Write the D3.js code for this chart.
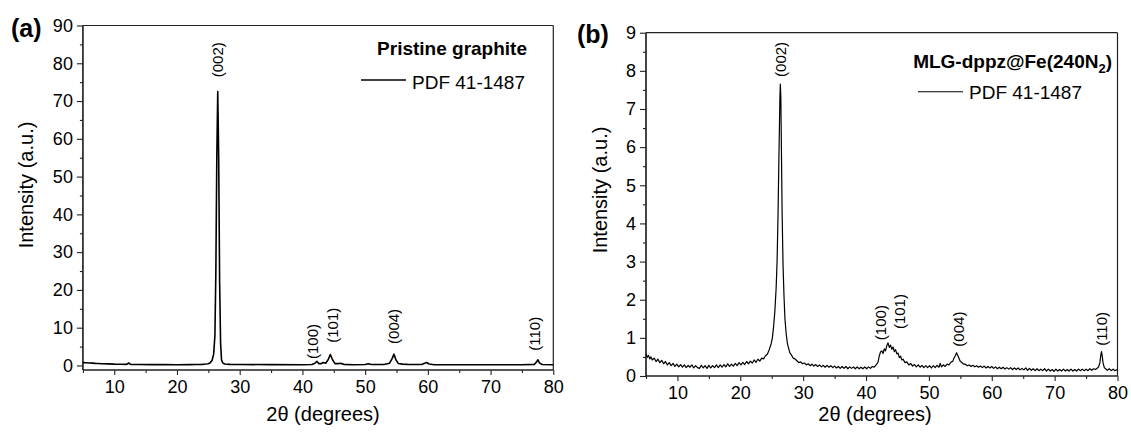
<!DOCTYPE html>
<html><head><meta charset="utf-8">
<script src="https://cdn.jsdelivr.net/npm/d3@7"></script>
<style>
body{margin:0;background:#fff;}
text{font-family:"Liberation Sans",Arial,sans-serif;fill:#000;}
</style></head>
<body><svg id="c" width="1131" height="432"></svg>
<script>
// ---- Data ----
const xTicks = [10,20,30,40,50,60,70,80];
const yTicksA = [0,10,20,30,40,50,60,70,80,90];
const yTicksB = [0,1,2,3,4,5,6,7,8,9];

// Panel (a): Pristine graphite, [2theta, intensity]
const patternA = [
[5,0.75],[5.5,0.72],[6,0.66],[6.5,0.62],[7,0.55],[7.5,0.52],[8,0.45],[9,0.42],[10,0.35],[11,0.32],[12,0.3],[12.3,0.65],[12.6,0.3],
[14,0.27],[16,0.22],[18,0.22],[20,0.2],[22,0.22],[23,0.25],[24,0.3],[24.6,0.38],[25.0,0.45],[25.3,0.7],[25.6,1.4],[25.85,3],
[26.05,8],[26.2,25],[26.35,55],[26.5,72.5],[26.65,55],[26.8,22],[26.95,6],[27.1,1.5],[27.3,0.7],[27.6,0.4],[28.5,0.3],
[30,0.25],[35,0.22],[40,0.2],[41.5,0.25],[42.0,0.6],[42.3,1.1],[42.6,0.5],[43.0,0.5],[43.3,0.8],[43.7,0.6],[44.1,1.5],
[44.45,2.9],[44.8,1.5],[45.2,0.5],[45.8,0.5],[46.1,0.55],[46.6,0.3],[48,0.2],[50,0.25],[50.5,0.45],[51,0.25],[53,0.25],
[53.9,0.6],[54.3,1.8],[54.6,3.0],[54.9,1.5],[55.3,0.5],[56,0.35],[57,0.25],[59,0.25],[59.5,0.6],[59.8,0.8],[60.2,0.4],
[61,0.2],[65,0.2],[70,0.2],[75,0.2],[77,0.3],[77.35,1.0],[77.55,1.5],[77.8,0.7],[78.2,0.25],[80,0.2]
];

// Panel (b): MLG-dppz@Fe(240N2), [2theta, intensity]
const patternB = [
[5.0,0.58],[5.2,0.49],[5.4,0.54],[5.6,0.45],[5.8,0.50],[6.0,0.42],[6.3,0.47],[6.6,0.38],[6.9,0.44],[7.2,0.35],[7.5,0.41],
[7.8,0.32],[8.1,0.38],[8.4,0.29],[8.7,0.35],[9.0,0.27],[9.3,0.33],[9.6,0.25],[9.9,0.31],[10.2,0.24],[10.5,0.30],[10.8,0.23],
[11.1,0.29],[11.4,0.22],[11.7,0.28],[12.0,0.23],[12.3,0.29],[12.6,0.21],[12.9,0.27],[13.2,0.22],[13.5,0.20],[13.8,0.28],
[14.1,0.21],[14.4,0.27],[14.7,0.20],[15.0,0.28],[15.3,0.21],[15.6,0.27],[15.9,0.22],[16.2,0.29],[16.5,0.22],[16.8,0.29],
[17.1,0.23],[17.4,0.30],[17.7,0.24],[18.0,0.32],[18.3,0.25],[18.6,0.31],[18.9,0.26],[19.2,0.33],[19.5,0.27],[19.8,0.35],
[20.1,0.29],[20.4,0.36],[20.7,0.30],[21.0,0.38],[21.3,0.32],[21.6,0.39],[21.9,0.34],[22.2,0.42],[22.5,0.36],[22.8,0.44],
[23.1,0.39],[23.4,0.47],[23.7,0.45],[24.0,0.53],[24.3,0.57],[24.6,0.69],[24.9,0.84],[25.1,1.0],[25.3,1.3],[25.5,1.7],
[25.7,2.3],[25.85,3.0],[26.0,4.2],[26.15,5.8],[26.3,7.3],[26.37,7.65],[26.45,7.3],[26.55,5.8],[26.65,4.3],[26.8,2.9],
[26.95,2.1],[27.1,1.5],[27.3,1.1],[27.5,0.85],[27.7,0.72],[27.9,0.60],[28.1,0.56],[28.4,0.47],[28.7,0.45],
[29.0,0.40],[29.3,0.35],[29.6,0.37],[29.9,0.32],[30.2,0.34],[30.5,0.29],[30.8,0.32],[31.1,0.27],[31.4,0.31],[31.7,0.26],
[32.0,0.30],[32.3,0.25],[32.6,0.29],[32.9,0.24],[33.2,0.28],[33.5,0.23],[33.8,0.28],[34.1,0.23],[34.4,0.27],[34.7,0.22],
[35.0,0.26],[35.3,0.21],[35.6,0.25],[35.9,0.20],[36.2,0.25],[36.5,0.20],[36.8,0.25],[37.1,0.19],[37.4,0.24],[37.7,0.20],
[38.0,0.24],[38.3,0.19],[38.6,0.24],[38.9,0.19],[39.2,0.23],[39.5,0.19],[39.8,0.24],[40.1,0.19],[40.4,0.24],[40.7,0.20],
[41.0,0.25],[41.3,0.23],[41.6,0.29],[41.9,0.36],[42.1,0.52],[42.3,0.63],[42.5,0.66],[42.7,0.59],[42.9,0.71],[43.1,0.66],
[43.3,0.79],[43.5,0.87],[43.7,0.75],[43.9,0.81],[44.1,0.70],[44.3,0.76],[44.5,0.64],[44.7,0.69],[44.9,0.58],[45.1,0.60],
[45.3,0.48],[45.5,0.52],[45.7,0.42],[45.9,0.44],[46.2,0.35],[46.5,0.37],[46.8,0.29],[47.1,0.33],[47.4,0.26],[47.7,0.30],
[48.0,0.24],[48.3,0.29],[48.6,0.23],[48.9,0.28],[49.2,0.22],[49.5,0.27],[49.8,0.22],[50.1,0.27],[50.4,0.21],[50.7,0.27],
[51.0,0.22],[51.3,0.28],[51.6,0.23],[51.8,0.33],[52.0,0.24],[52.3,0.29],[52.6,0.25],[52.9,0.31],[53.2,0.29],[53.5,0.36],
[53.8,0.39],[54.0,0.47],[54.2,0.53],[54.4,0.61],[54.6,0.54],[54.8,0.46],[55.0,0.38],[55.2,0.36],[55.5,0.31],[55.8,0.31],
[56.1,0.27],[56.4,0.29],[56.7,0.25],[57.0,0.28],[57.3,0.24],[57.6,0.27],[57.9,0.23],[58.2,0.26],[58.5,0.22],[58.8,0.26],
[59.1,0.21],[59.4,0.25],[59.7,0.21],[60.0,0.25],[60.3,0.20],[60.6,0.24],[60.9,0.19],[61.2,0.23],[61.5,0.19],[61.8,0.23],
[62.1,0.18],[62.4,0.22],[62.7,0.18],[63.0,0.22],[63.3,0.17],[63.6,0.21],[63.9,0.17],[64.2,0.21],[64.5,0.16],[64.8,0.20],
[65.1,0.16],[65.4,0.21],[65.7,0.15],[66.0,0.20],[66.3,0.15],[66.6,0.19],[66.9,0.14],[67.2,0.19],[67.5,0.14],[67.8,0.18],
[68.1,0.14],[68.4,0.19],[68.7,0.13],[69.0,0.18],[69.3,0.13],[69.6,0.17],[69.9,0.12],[70.2,0.18],[70.5,0.13],[70.8,0.17],
[71.1,0.13],[71.4,0.18],[71.7,0.13],[72.0,0.17],[72.3,0.13],[72.6,0.18],[72.9,0.13],[73.2,0.17],[73.5,0.13],[73.8,0.18],
[74.1,0.14],[74.4,0.18],[74.7,0.14],[75.0,0.18],[75.3,0.14],[75.6,0.19],[75.9,0.15],[76.2,0.19],[76.5,0.17],[76.8,0.21],
[77.0,0.24],[77.2,0.35],[77.35,0.55],[77.45,0.64],[77.55,0.55],[77.7,0.35],[77.9,0.22],[78.1,0.19],[78.4,0.15],[78.7,0.19],
[79.0,0.14],[79.3,0.18],[79.6,0.14],[80.0,0.17]
];

// Peak labels: [label, 2theta, intensity at label's lower end]
const peaksA = [["(002)",26.5,76.3],["(100)",41.7,1.7],["(101)",44.8,6.0],["(004)",54.6,5.7],["(110)",77.0,3.9]];
const peaksB = [["(002)",26.37,7.84],["(100)",42.3,0.94],["(101)",45.4,1.23],["(004)",54.8,0.77],["(110)",77.5,0.79]];

// ---- Drawing ----
const svg = d3.select("#c");
const axisColor = "#222";

function panel(o){
  const g = svg.append("g");
  const x = d3.scaleLinear().domain([5,80]).range([o.left,o.right]);
  const y = d3.scaleLinear().domain(o.yDomain).range([o.bottom,o.top]);

  g.append("line").attr("x1",o.left).attr("x2",o.right).attr("y1",o.top).attr("y2",o.top).attr("stroke",axisColor).attr("stroke-width",1.2);
  g.append("line").attr("x1",o.right).attr("x2",o.right).attr("y1",o.top).attr("y2",o.bottom).attr("stroke",axisColor).attr("stroke-width",1.2);

  const xMinor = d3.range(5,81,5).filter(v=>!xTicks.includes(v));
  const gx = g.append("g").attr("transform",`translate(0,${o.bottom})`);
  gx.call(d3.axisBottom(x).tickValues(xTicks).tickSize(5).tickPadding(5).tickFormat(d3.format("d")));
  gx.append("g").call(d3.axisBottom(x).tickValues(xMinor).tickSize(3).tickFormat(""));
  const gy = g.append("g").attr("transform",`translate(${o.left},0)`);
  gy.call(d3.axisLeft(y).tickValues(o.yTicks).tickSize(6).tickPadding(4).tickFormat(d3.format("d")));
  gy.append("g").call(d3.axisLeft(y).tickValues(o.yMinor).tickSize(3).tickFormat(""));
  g.selectAll(".domain").attr("stroke",axisColor).attr("stroke-width",1.2);
  g.selectAll(".tick line").attr("stroke",axisColor).attr("stroke-width",1.1);
  g.selectAll(".tick text").attr("font-size",18).attr("font-family","Liberation Sans, Arial, sans-serif").attr("fill","#000");
  gy.selectAll(".domain").attr("d",`M0,${o.bottom}V${o.top}`);
  gx.selectAll(".domain").attr("d",`M${o.left},0H${o.right}`);

  g.append("path").datum(o.data)
    .attr("d",d3.line().x(d=>x(d[0])).y(d=>y(d[1])))
    .attr("fill","none").attr("stroke","#000").attr("stroke-width",o.lw).attr("stroke-linejoin","round");

  o.peaks.forEach(p=>{
    g.append("text").attr("transform",`translate(${x(p[1])},${y(p[2])}) rotate(-90)`)
      .attr("dy","0.36em").attr("font-size",15).text(p[0]);
  });

  g.append("text").attr("transform",`translate(${o.ytX},${o.ytY}) rotate(-90)`)
    .attr("text-anchor","middle").attr("font-size",20).text("Intensity (a.u.)");
  g.append("text").attr("x",o.xtX).attr("y",421).attr("text-anchor","middle").attr("font-size",20).text("2θ (degrees)");

  g.append("text").attr("x",o.tagX).attr("y",o.tagY).attr("font-size",25).attr("font-weight","bold").text(o.tag);
  return {g,x,y};
}

const A = panel({left:82.9,right:553.3,top:25.5,bottom:370,yDomain:[-1.2,90],yTicks:yTicksA,
  yMinor:d3.range(5,90,10),data:patternA,peaks:peaksA,lw:1.6,ytX:33,ytY:185,xtX:323,tag:"(a)",tagX:11,tagY:37});
const B = panel({left:646,right:1117.5,top:32.7,bottom:376,yDomain:[0,9],yTicks:yTicksB,
  yMinor:d3.range(0.5,9,1),data:patternB,peaks:peaksB,lw:1.2,ytX:607,ytY:190,xtX:875,tag:"(b)",tagX:577,tagY:43});

A.g.append("text").attr("x",527).attr("y",55).attr("text-anchor","end").attr("font-size",19).attr("font-weight","bold").text("Pristine graphite");
A.g.append("line").attr("x1",361).attr("x2",406).attr("y1",80).attr("y2",80).attr("stroke","#000").attr("stroke-width",1.4);
A.g.append("text").attr("x",412).attr("y",89).attr("font-size",19).text("PDF 41-1487");

const tb = B.g.append("text").attr("x",1112).attr("y",68).attr("text-anchor","end").attr("font-size",19).attr("font-weight","bold");
tb.append("tspan").text("MLG-dppz@Fe(240N");
tb.append("tspan").attr("font-size",13).attr("dy",5).text("2");
tb.append("tspan").attr("dy",-5).text(")");
B.g.append("line").attr("x1",918).attr("x2",963).attr("y1",91.7).attr("y2",91.7).attr("stroke","#000").attr("stroke-width",1.1);
B.g.append("text").attr("x",969).attr("y",99).attr("font-size",19).text("PDF 41-1487");
</script></body></html>
